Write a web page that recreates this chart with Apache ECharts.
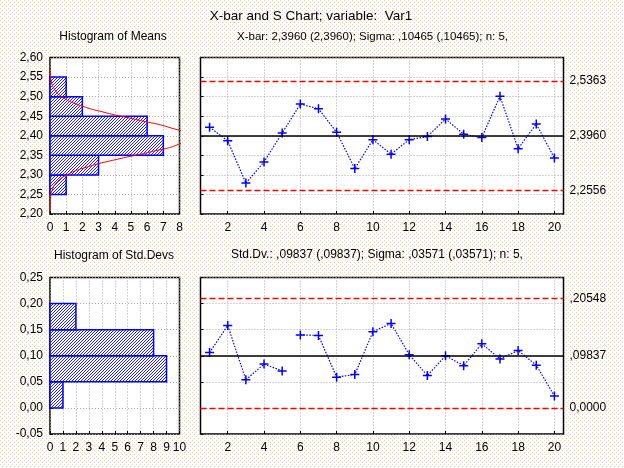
<!DOCTYPE html>
<html>
<head>
<meta charset="utf-8">
<script src="https://cdn.jsdelivr.net/npm/echarts@6.0.0/dist/echarts.min.js"></script>
<style>
html, body { margin: 0; padding: 0; }
#main { width: 624px; height: 468px; }
</style>
</head>
<body>
<div id="main"></div>
<script>
// sample numbers and the two statistics per sample
var samples = [1, 2, 3, 4, 5, 6, 7, 8, 9, 10, 11, 12, 13, 14, 15, 16, 17, 18, 19, 20];
var means = [2.422, 2.387, 2.279, 2.333, 2.407, 2.481, 2.469, 2.409, 2.316, 2.390,
             2.353, 2.390, 2.398, 2.443, 2.404, 2.3955, 2.501, 2.367, 2.430, 2.343];
var stdDevs = [0.106, 0.158, 0.054, 0.084, 0.071, 0.140, 0.139, 0.059, 0.064, 0.146,
               0.162, 0.102, 0.062, 0.100, 0.081, 0.123, 0.094, 0.110, 0.082, 0.023];

// control limits (UCL, center, LCL) and their labels
var meanLimits = [2.5363, 2.3960, 2.2556];
var meanLimitLabels = ['2,5363', '2,3960', '2,2556'];
var sdLimits = [0.20548, 0.09837, 0.0];
var sdLimitLabels = [',20548', ',09837', '0,0000'];

// histogram of means
var meanBinLo = [2.25, 2.30, 2.35, 2.40, 2.45, 2.50];
var meanCounts = [1, 3, 7, 6, 2, 1];
// fitted normal curve
var curveY = [2.21, 2.22, 2.24, 2.26, 2.28, 2.30, 2.32, 2.34, 2.36, 2.38, 2.40,
              2.42, 2.44, 2.46, 2.48, 2.50, 2.52, 2.54, 2.56, 2.57];
var curveX = [0.003, 0.007, 0.033, 0.125, 0.40, 1.04, 2.28, 4.16, 6.33, 8.04, 8.49,
              7.47, 5.47, 3.34, 1.70, 0.72, 0.26, 0.075, 0.018, 0.008];

// histogram of std devs
var sdBinLo = [0.00, 0.05, 0.10, 0.15];
var sdCounts = [1, 9, 8, 2];

var binWidth = 0.05;
var evenTicks = [2, 4, 6, 8, 10, 12, 14, 16, 18, 20];

var FONT = 'Liberation Sans, Arial, sans-serif';

// page background: the dotted cream pattern
function makeBackground() {
    var c = document.createElement('canvas');
    c.width = 4; c.height = 4;
    var g = c.getContext('2d');
    g.fillStyle = '#ffffff';
    g.fillRect(0, 0, 4, 4);
    g.fillStyle = '#f6e27a';
    g.fillRect(0, 0, 1, 1);
    g.fillStyle = '#f4bcc6';
    g.fillRect(2, 2, 1, 1);
    return c.toDataURL();
}
document.getElementById('main').style.background = 'url(' + makeBackground() + ') repeat';

// diagonal hatch for the histogram bars
var hatchCanvas = document.createElement('canvas');
hatchCanvas.width = 3; hatchCanvas.height = 3;
(function () {
    var g = hatchCanvas.getContext('2d');
    g.fillStyle = '#ffffff';
    g.fillRect(0, 0, 3, 3);
    g.fillStyle = '#2020ff';
    for (var i = 0; i < 3; i++) g.fillRect(2 - i, i, 1, 1);
})();
var hatch = { image: hatchCanvas, repeat: 'repeat' };

function comma2(v) { return v.toFixed(2).replace('.', ','); }

function binData(lo, counts) {
    var out = [];
    for (var i = 0; i < lo.length; i++) out.push([lo[i], lo[i] + binWidth, counts[i]]);
    return out;
}

function pairs(xs, ys) {
    var out = [];
    for (var i = 0; i < xs.length; i++) out.push([xs[i], ys[i]]);
    return out;
}

function renderBar(params, api) {
    var p0 = api.coord([0, api.value(1)]);
    var p1 = api.coord([api.value(2), api.value(0)]);
    return {
        type: 'rect',
        shape: { x: p0[0], y: p0[1], width: p1[0] - p0[0], height: p1[1] - p0[1] },
        style: { fill: hatch, stroke: '#0000ff', lineWidth: 1.5 }
    };
}

var gridStyle = { show: true, backgroundColor: '#ffffff', borderColor: '#000000', borderWidth: 1.5, outerBoundsMode: 'none' };
var dotted = { show: true, lineStyle: { color: '#a8a8a8', type: [1, 2], width: 1 } };
var tickLabel = { color: '#000000', fontFamily: FONT, fontSize: 12 };
var inTick = { show: true, inside: true, length: 3, lineStyle: { color: '#000000' } };

function histX(idx, max) {
    return {
        type: 'value', gridIndex: idx, min: 0, max: max, interval: 1,
        axisLine: { show: false, onZero: false }, axisTick: inTick, splitLine: dotted,
        axisLabel: Object.assign({ margin: 8 }, tickLabel)
    };
}
function histY(idx, min, max) {
    return {
        type: 'value', gridIndex: idx, min: min, max: max, interval: 0.05,
        axisLine: { show: false, onZero: false }, axisTick: inTick, splitLine: dotted,
        axisLabel: Object.assign({ margin: 7, formatter: comma2 }, tickLabel)
    };
}
function sampleX(idx) {
    return {
        type: 'value', gridIndex: idx, min: 0.5, max: 20.5,
        axisLine: { show: false, onZero: false },
        axisTick: Object.assign({ customValues: evenTicks }, inTick),
        splitLine: dotted,
        axisLabel: Object.assign({ margin: 8, customValues: evenTicks }, tickLabel)
    };
}
function sampleY(idx, min, max) {
    return {
        type: 'value', gridIndex: idx, min: min, max: max, interval: 0.05,
        axisLine: { show: false, onZero: false }, axisTick: inTick, splitLine: dotted,
        axisLabel: { show: false }
    };
}

function limitLines(vals, labels) {
    var out = [];
    for (var i = 0; i < vals.length; i++) {
        var center = (i === 1);
        out.push({
            yAxis: vals[i],
            lineStyle: center ? { color: '#000000', type: 'solid', width: 1.5 }
                              : { color: '#ff0000', type: [6, 3], width: 1.3 },
            label: {
                show: true, position: 'end', distance: 6, formatter: labels[i],
                color: '#000000', fontFamily: FONT, fontSize: 12
            }
        });
    }
    return { silent: true, symbol: 'none', animation: false, data: out };
}

var plusSymbol = 'path://M5,0H7V5H12V7H7V12H5V7H0V5H5Z';
function sampleLine(x, y, data, extra) {
    return Object.assign({
        type: 'line', xAxisIndex: x, yAxisIndex: y, data: data,
        symbol: plusSymbol, symbolSize: 9, showAllSymbol: true,
        itemStyle: { color: '#0000ff' },
        lineStyle: { color: '#0000ff', width: 1.2, type: [1.5, 1.5] },
        animation: false, z: 3
    }, extra || {});
}

var meanPts = pairs(samples, means);
var sdPts = pairs(samples, stdDevs);

var chart = echarts.init(document.getElementById('main'));
chart.setOption({
    backgroundColor: 'transparent',
    animation: false,
    graphic: [
        { type: 'text', style: { text: 'X-bar and S Chart; variable:  Var1', x: 311, y: 16, textAlign: 'center', textVerticalAlign: 'middle', font: '13.5px ' + FONT, fill: '#000' } },
        { type: 'text', style: { text: 'Histogram of Means', x: 113, y: 37, textAlign: 'center', textVerticalAlign: 'middle', font: '12px ' + FONT, fill: '#000' } },
        { type: 'text', style: { text: 'X-bar: 2,3960 (2,3960); Sigma: ,10465 (,10465); n: 5,', x: 237, y: 37, textAlign: 'left', textVerticalAlign: 'middle', font: '11.5px ' + FONT, fill: '#000' } },
        { type: 'text', style: { text: 'Histogram of Std.Devs', x: 114, y: 256, textAlign: 'center', textVerticalAlign: 'middle', font: '12px ' + FONT, fill: '#000' } },
        { type: 'text', style: { text: 'Std.Dv.: ,09837 (,09837); Sigma: ,03571 (,03571); n: 5,', x: 231, y: 255, textAlign: 'left', textVerticalAlign: 'middle', font: '12px ' + FONT, fill: '#000' } }
    ],
    grid: [
        Object.assign({ left: 50, top: 57.5, width: 129.5, height: 156.5 }, gridStyle),
        Object.assign({ left: 200.5, top: 57.5, width: 363, height: 156.5 }, gridStyle),
        Object.assign({ left: 50, top: 277.5, width: 129.5, height: 156.5 }, gridStyle),
        Object.assign({ left: 200.5, top: 277.5, width: 363, height: 156.5 }, gridStyle)
    ],
    xAxis: [histX(0, 8), sampleX(1), histX(2, 10), sampleX(3)],
    yAxis: [histY(0, 2.2, 2.6), sampleY(1, 2.2, 2.6), histY(2, -0.05, 0.25), sampleY(3, -0.05, 0.25)],
    series: [
        {
            type: 'custom', xAxisIndex: 0, yAxisIndex: 0,
            data: binData(meanBinLo, meanCounts), encode: { x: 2, y: [0, 1] },
            renderItem: renderBar, animation: false
        },
        {
            type: 'line', xAxisIndex: 0, yAxisIndex: 0, data: pairs(curveX, curveY),
            symbol: 'none', smooth: true, lineStyle: { color: '#ff0000', width: 1 },
            animation: false, z: 4
        },
        sampleLine(1, 1, meanPts, { markLine: limitLines(meanLimits, meanLimitLabels) }),
        {
            type: 'custom', xAxisIndex: 2, yAxisIndex: 2,
            data: binData(sdBinLo, sdCounts), encode: { x: 2, y: [0, 1] },
            renderItem: renderBar, animation: false
        },
        // the S line is broken between samples 5 and 6 in the source
        sampleLine(3, 3, sdPts.slice(0, 5), { markLine: limitLines(sdLimits, sdLimitLabels) }),
        sampleLine(3, 3, sdPts.slice(5))
    ]
});
</script>
</body>
</html>
